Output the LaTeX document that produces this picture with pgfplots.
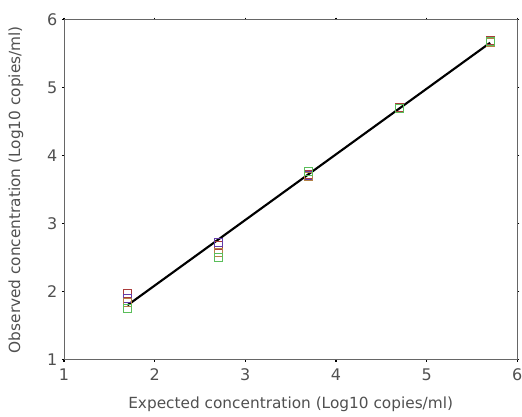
\documentclass[border=0pt]{standalone}
\usepackage{pgfplots}
\pgfplotsset{compat=1.18}
\usepackage{fontspec}
\setmainfont{DejaVu Sans}
\definecolor{txt}{RGB}{80,80,80}
\definecolor{sred}{RGB}{170,60,60}
\definecolor{spur}{RGB}{100,60,170}
\definecolor{sorg}{RGB}{180,130,70}
\definecolor{sgrn}{RGB}{90,190,90}
\begin{document}
\begin{tikzpicture}
\useasboundingbox (-48pt,-43pt) rectangle (343.5pt,269.75pt);
\begin{axis}[
  scale only axis, width=340pt, height=255pt,
  xmin=1, xmax=6, ymin=1, ymax=6,
  xtick={1,...,6}, ytick={1,...,6},
  axis line style={draw=black!60, line width=0.7pt},
  tick style={draw=black, line width=1.2pt},
  tick align=outside, major tick length=1.5pt,
  tick label style={font=\fontsize{12}{14}\selectfont, text=txt},
  /pgf/number format/assume math mode=true,
  xlabel={Expected concentration (Log10 copies/ml)},
  ylabel={Observed concentration (Log10 copies/ml)},
  label style={font=\fontsize{11.5}{13}\selectfont, text=txt},
  xlabel style={at={(axis description cs:0.5,0)}, yshift=-24pt, anchor=north},
  ylabel style={at={(axis description cs:0,0.5)}, anchor=south, yshift=27pt},
  xticklabel style={yshift=-2pt},
  clip=false,
]
\addplot[sred, only marks, mark=square, mark size=3pt, line width=0.7pt] coordinates {(1.7,1.98) (2.7,2.68) (3.7,3.73) (4.7,4.71) (5.7,5.69)};
\addplot[spur, only marks, mark=square, mark size=3pt, line width=0.7pt] coordinates {(1.7,1.9) (2.7,2.72) (3.7,3.71) (4.7,4.70) (5.7,5.68)};
\addplot[sorg, only marks, mark=square, mark size=3pt, line width=0.7pt] coordinates {(1.7,1.84) (2.7,2.58) (3.7,3.70) (4.7,4.69) (5.7,5.67)};
\addplot[sgrn, only marks, mark=square, mark size=3pt, line width=0.7pt] coordinates {(1.7,1.75) (2.7,2.50) (3.7,3.77) (4.7,4.70) (5.7,5.68)};
\addplot[black, line width=1.6pt] coordinates {(1.7,1.80) (5.7,5.66)};
\end{axis}
\end{tikzpicture}
\end{document}
